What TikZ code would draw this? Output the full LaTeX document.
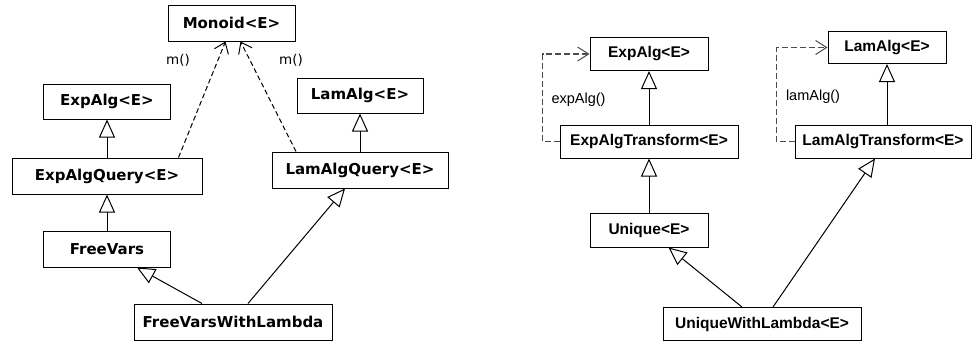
\documentclass[tikz,border=0pt]{standalone}
\usepackage{fontspec}
\newfontfamily\leftfont{DejaVu Sans}
\newfontfamily\rightfont{Liberation Sans}
\usetikzlibrary{arrows.meta,positioning,calc}
\tikzset{
  lbox/.style={draw=black, line width=1pt, inner sep=0pt, font=\leftfont\bfseries\fontsize{15}{17}\selectfont},
  rbox/.style={draw=black, line width=1pt, inner sep=0pt, font=\rightfont\bfseries\fontsize{15.5}{17}\selectfont},
  inh/.style={line width=1pt, -{Triangle[open, length=18pt, width=16pt, line width=1pt]}},
  depL/.style={line width=1pt, dash pattern=on 5pt off 3pt, -{Straight Barb[length=10pt, width=15pt, line width=1pt]}},
  depR/.style={line width=1.1pt, draw=black!70, dash pattern=on 6pt off 3pt, -{Straight Barb[length=11pt, width=14pt, line width=1pt]}},
  llab/.style={font=\leftfont\fontsize{13.5}{15}\selectfont},
  rlab/.style={font=\rightfont\fontsize{14.5}{16}\selectfont},
}
\begin{document}
\begin{tikzpicture}[x=1pt,y=-1pt]
\useasboundingbox (0,0) rectangle (972,341);
% left diagram
\node[lbox, minimum width=127pt, minimum height=36pt] (mon) at (231.5,23) {Monoid<E>};
\node[lbox, minimum width=127pt, minimum height=35pt] (ea) at (107,101.5) {ExpAlg<E>};
\node[lbox, minimum width=126pt, minimum height=35pt] (la) at (360,95.5) {LamAlg<E>};
\node[lbox, minimum width=190pt, minimum height=36pt] (eq) at (107,176) {ExpAlgQuery<E>};
\node[lbox, minimum width=176pt, minimum height=36pt] (lq) at (360,170) {LamAlgQuery<E>};
\node[lbox, minimum width=127pt, minimum height=36pt] (fv) at (107,249) {FreeVars};
\node[lbox, minimum width=198pt, minimum height=36pt] (fvwl) at (233,322) {FreeVarsWithLambda};
\node[llab] (m1) at (178,60) {m()};
\node[llab] (m2) at (291,60) {m()};
\draw[inh] (eq.north) -- (ea.south);
\draw[inh] (lq.north) -- (la.south);
\draw[inh] (fv.north) -- (eq.south);
\draw[inh] ([xshift=-31pt]fvwl.north) -- ([xshift=30pt]fv.south);
\draw[inh] ([xshift=15pt]fvwl.north) -- ([xshift=-15pt]lq.south);
\draw[depL] ([xshift=71.5pt]eq.north) -- ([xshift=-6pt]mon.south);
\draw[depL] ([xshift=-64pt]lq.north) -- ([xshift=9pt]mon.south);
% right diagram
\node[rbox, minimum width=118pt, minimum height=33pt] (ea2) at (649,54) {ExpAlg<E>};
\node[rbox, minimum width=118pt, minimum height=32pt] (la2) at (887,47.5) {LamAlg<E>};
\node[rbox, minimum width=178pt, minimum height=33pt] (et) at (649,141.5) {ExpAlgTransform<E>};
\node[rbox, minimum width=176pt, minimum height=33pt] (lt) at (883,141.5) {LamAlgTransform<E>};
\node[rbox, minimum width=118pt, minimum height=34pt] (u) at (649,230) {Unique<E>};
\node[rbox, minimum width=198pt, minimum height=33pt] (uwl) at (762,324) {UniqueWithLambda<E>};
\node[rlab] (l1) at (578.5,100) {expAlg()};
\node[rlab] (l2) at (813,97) {lamAlg()};
\draw[inh] (et.north) -- (ea2.south);
\draw[inh] (lt.north -| la2.south) -- (la2.south);
\draw[inh] (u.north) -- (et.south);
\draw[inh] ([xshift=-20pt]uwl.north) -- ([xshift=19.5pt]u.south);
\draw[inh] ([xshift=11pt]uwl.north) -- ([xshift=-8pt]lt.south);
\draw[depR] (et.west) -- ++(-17,0) |- (ea2.west);
\draw[depR] (lt.west) -- ++(-18,0) |- (la2.west);
\end{tikzpicture}
\end{document}
